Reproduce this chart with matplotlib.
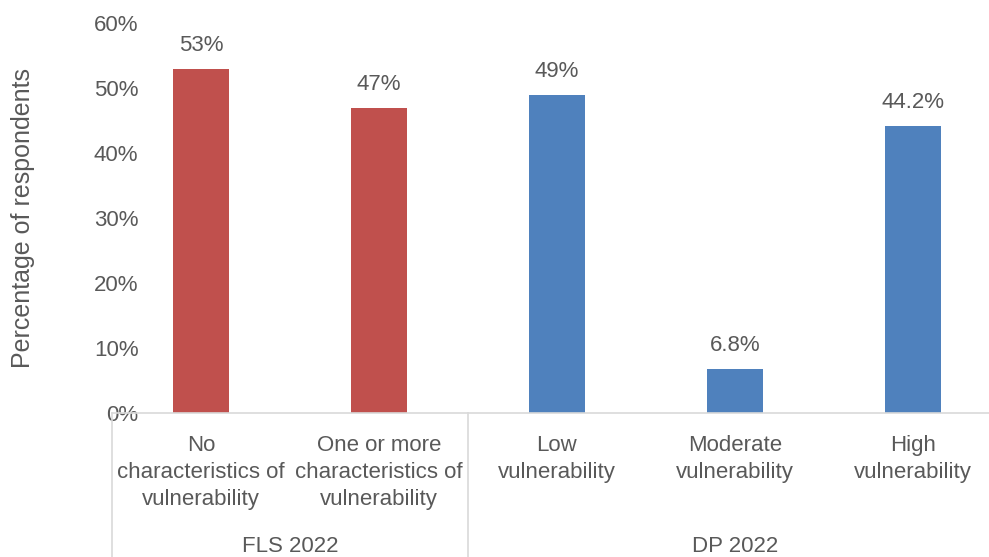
import matplotlib.pyplot as plt
import matplotlib.transforms as mtransforms

# Share of respondents by vulnerability grouping
categories = [
    "No\ncharacteristics of\nvulnerability",
    "One or more\ncharacteristics of\nvulnerability",
    "Low\nvulnerability",
    "Moderate\nvulnerability",
    "High\nvulnerability",
]
values = [53, 47, 49, 6.8, 44.2]
groups = ["FLS 2022", "DP 2022"]
group_members = [[0, 1], [2, 3, 4]]
group_colors = ["#C0504D", "#4F81BD"]

yticks = [0, 10, 20, 30, 40, 50, 60]

text_color = "#595959"
line_color = "#D9D9D9"

plt.rcParams['font.family'] = ['Liberation Sans', 'DejaVu Sans']

W, H = 989, 557
fig = plt.figure(figsize=(W / 100, H / 100), dpi=100)
ax = fig.add_axes([112 / W, 144 / H, 877 / W, 390 / H])

bar_colors = []
for i in range(len(categories)):
    for g, members in enumerate(group_members):
        if i in members:
            bar_colors.append(group_colors[g])

x = list(range(len(categories)))
bars = ax.bar(x, values, width=0.31, color=bar_colors, zorder=2)
ax.bar_label(bars, labels=[f"{v:g}%" for v in values], padding=9,
             fontsize=16, color=text_color)

ax.set_xlim(-0.5, -0.5 + 877 / 178)
ax.set_ylim(0, 60)
ax.set_yticks(yticks)
ax.set_yticklabels([f"{t}%" for t in yticks])
ax.tick_params(axis='y', length=0, pad=-19, labelsize=16, labelcolor=text_color)
ax.set_xticks([])

for s in ['top', 'right', 'left']:
    ax.spines[s].set_visible(False)
ax.spines['bottom'].set_color(line_color)
ax.spines['bottom'].set_linewidth(1.2)

ax.set_ylabel("Percentage of respondents", fontsize=18, color=text_color)
ax.yaxis.set_label_coords(-77 / 877, 0.5)

# category labels (two-level axis)
trans = mtransforms.blended_transform_factory(ax.transData, ax.transAxes)
for i, lab in enumerate(categories):
    ax.annotate(lab, xy=(i, 0), xycoords=trans, xytext=(0, -16),
                textcoords='offset points', ha='center', va='top',
                fontsize=16, color=text_color, linespacing=1.38)

# group labels and separators
bounds = [-0.5]
for g, members in enumerate(group_members):
    mid = (members[0] + members[-1]) / 2
    ax.annotate(groups[g], xy=(mid, 0), xycoords=trans, xytext=(0, -96),
                textcoords='offset points', ha='center', va='center',
                fontsize=16, color=text_color)
    bounds.append(members[-1] + 0.5)
for b in bounds:
    ax.plot([b, b], [0, -144 / 390], transform=trans, color=line_color,
            linewidth=1.2, clip_on=False)

fig.savefig("out.png", dpi=100, facecolor='white')
